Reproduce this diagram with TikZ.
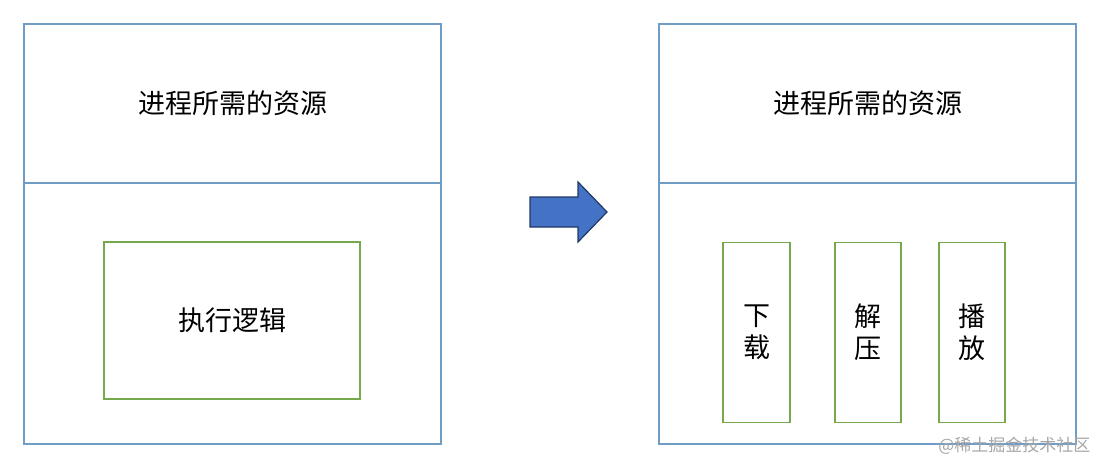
\documentclass[tikz,border=0pt]{standalone}
\usepackage{fontspec}
\setmainfont{Noto Sans CJK SC}
\definecolor{frameblue}{HTML}{6F9DC6}
\definecolor{logicgreen}{HTML}{76A94E}
\definecolor{arrowfill}{HTML}{4472C4}
\definecolor{arrowline}{HTML}{1F3864}
\begin{document}
\begin{tikzpicture}[x=1pt,y=-1pt,
    frame/.style={draw=frameblue,line width=1.6pt,rectangle,inner sep=0pt,
      minimum width=417pt,font=\fontsize{27}{32}\selectfont},
    task/.style={draw=logicgreen,line width=1.6pt,rectangle,inner sep=0pt,
      align=center,font=\fontsize{27}{32}\selectfont}]
  \useasboundingbox (0,0) rectangle (1099,463);
  % left: one program
  \node[frame,minimum height=159pt] (resL) at (232.5,103.5) {进程所需的资源};
  \node[frame,minimum height=261pt] (bodyL) at (232.5,313.5) {};
  \node[task,minimum width=256pt,minimum height=157pt] (logic) at (232,320.5) {执行逻辑};
  % arrow
  \draw[arrowline,fill=arrowfill,line width=1.2pt,line join=miter]
    (530,197) -- (578,197) -- (578,182) -- (607,212) -- (578,242)
    -- (578,227) -- (530,227) -- cycle;
  % right: split into three
  \node[frame,minimum height=159pt] (resR) at (867.5,103.5) {进程所需的资源};
  \node[frame,minimum height=261pt] (bodyR) at (867.5,313.5) {};
  \node[task,minimum width=67pt,minimum height=180pt] (down) at (756.5,332.5) {下\\载};
  \node[task,minimum width=66pt,minimum height=180pt] (unzip) at (868,332.5) {解\\压};
  \node[task,minimum width=66pt,minimum height=180pt] (play) at (972,332.5) {播\\放};
  \node[anchor=east,text=black!35,font=\fontsize{17}{20}\selectfont] (mark) at (1094,446) {@稀土掘金技术社区};
\end{tikzpicture}
\end{document}
